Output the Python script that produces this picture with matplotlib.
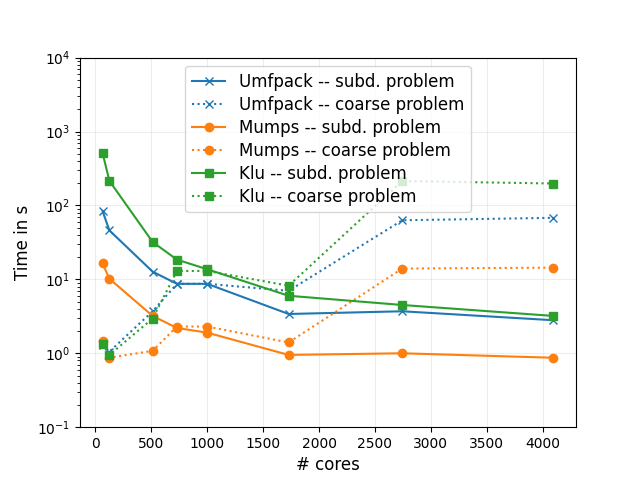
import matplotlib
matplotlib.use("Agg")
import matplotlib.pyplot as plt

cores = [64, 125, 512, 729, 1000, 1728, 2744, 4096]
umf_subd = [84, 46, 12.7, 8.7, 8.7, 3.4, 3.7, 2.8]
umf_coarse = [1.3, 1.05, 3.7, 8.7, 8.7, 7.0, 63, 68]
mumps_subd = [16.4, 10.2, 3.2, 2.2, 1.9, 0.95, 1.0, 0.87]
mumps_coarse = [1.45, 0.87, 1.08, 2.3, 2.3, 1.4, 14, 14.4]
klu_subd = [515, 215, 32, 18.5, 13.7, 6.0, 4.5, 3.2]
klu_coarse = [1.35, 0.95, 2.95, 13.0, 13.0, 8.2, 214, 198]

c_blue, c_orange, c_green = "#1f77b4", "#ff7f0e", "#2ca02c"

fig, ax = plt.subplots(figsize=(6.4, 4.8), dpi=100)
ax.plot(cores, umf_subd, "-x", color=c_blue, label="Umfpack -- subd. problem")
ax.plot(cores, umf_coarse, ":x", color=c_blue, label="Umfpack -- coarse problem")
ax.plot(cores, mumps_subd, "-o", color=c_orange, label="Mumps -- subd. problem")
ax.plot(cores, mumps_coarse, ":o", color=c_orange, label="Mumps -- coarse problem")
ax.plot(cores, klu_subd, "-s", color=c_green, label="Klu -- subd. problem")
ax.plot(cores, klu_coarse, ":s", color=c_green, label="Klu -- coarse problem")

ax.set_yscale("log")
ax.set_ylim(1e-1, 1e4)
ax.set_xlabel("# cores", fontsize=12)
ax.set_ylabel("Time in s", fontsize=12)
ax.grid(True, color="#dddddd", alpha=0.5)
ax.legend(loc="upper center", fontsize=12, labelspacing=0.3, borderpad=0.4)

fig.savefig("out.png", dpi=100)
